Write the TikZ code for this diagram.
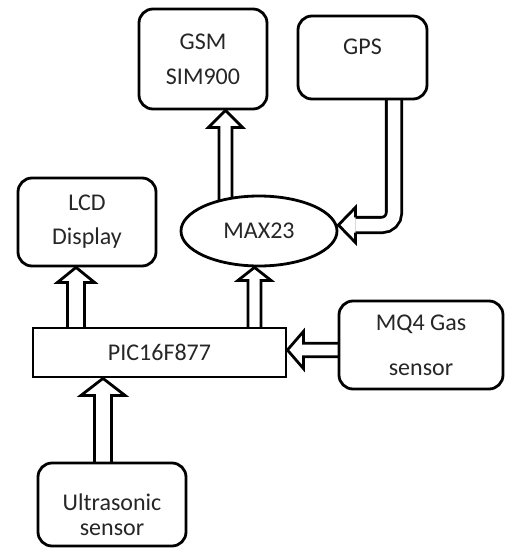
\documentclass[tikz,border=0pt]{standalone}
\usepackage{fontspec}
\setmainfont{Carlito}
\usetikzlibrary{calc,backgrounds,shapes.geometric}
\tikzset{
  box/.style={draw, line width=2.8pt, fill=white, rounded corners=14pt, inner sep=0pt,
    text=black!85, font=\fontsize{24}{32}\selectfont, align=center},
  lbl/.style={inner sep=0pt, text=black!85, font=\fontsize{24}{32}\selectfont, align=center},
  hollow/.style n args={3}{draw, fill=white, line width=2.8pt, line join=miter,
    to path={let \p1=($(\tikztotarget)!#3!(\tikztostart)$) in
      ($(\tikztostart)!#1!90:(\tikztotarget)$) -- ($(\p1)!#1!90:(\tikztotarget)$)
      -- ($(\p1)!#2!90:(\tikztotarget)$) -- (\tikztotarget)
      -- ($(\p1)!#2!-90:(\tikztotarget)$) -- ($(\p1)!#1!-90:(\tikztotarget)$)
      -- ($(\tikztostart)!#1!-90:(\tikztotarget)$)}},
  dblshaft/.style={line width=2.8pt, double=white, double distance=12.5pt, rounded corners=12pt},
  headline/.style={line width=2.8pt, line join=miter},
}
\begin{document}
\begin{tikzpicture}[x=1pt,y=-1pt]
\useasboundingbox (0,0) rectangle (506,549);
% blocks
\node[box, minimum width=128pt, minimum height=100pt] (gsm) at (203,59) {GSM\\[3pt]SIM900};
\node[box, minimum width=129pt, minimum height=83pt] (gps) at (362.5,57.5) {};
\node[lbl] (gpst) at (362.5,47) {GPS};
\node[box, minimum width=138pt, minimum height=88pt] (lcd) at (87,222) {LCD\\[2pt]Display};
\node[box, ellipse, sharp corners, minimum width=156pt, minimum height=70pt] (max) at (259,231) {MAX23};
\node[box, sharp corners, minimum width=253pt, minimum height=49pt] (pic) at (159.5,352.5) {PIC16F877};
\node[box, minimum width=164pt, minimum height=88pt] (mq4) at (421,345) {MQ4 Gas\\[13pt]sensor};
\node[box, minimum width=148pt, minimum height=83pt] (ult) at (112,504.5) {};
\node[lbl] (ultt) at (112,514.5) {Ultrasonic\\[-7pt]sensor};
% guide coordinates
\coordinate (xl) at (76,0);
\coordinate (xm) at (254.5,0);
\coordinate (xg) at (225.5,0);
\coordinate (xu) at (103,0);
\coordinate (xp) at (394,0);
\coordinate (ym) at (0,350);
\coordinate (ls) at (pic.center -| xl);
\coordinate (lt) at (lcd.south -| xl);
\coordinate (ms) at (pic.center -| xm);
\coordinate (mt) at (max.south -| xm);
\coordinate (gs) at (max.center -| xg);
\coordinate (gt) at (gsm.south -| xg);
\coordinate (qs) at (mq4.center |- ym);
\coordinate (qt) at (pic.east |- ym);
\coordinate (us) at (ult.center -| xu);
\coordinate (ut) at (pic.south -| xu);
\coordinate (ps) at (gps.center -| xp);
\coordinate (gtip) at ($(max.east)+(0,-6)$);
\coordinate (gbase) at ($(gtip)+(17,0)$);
\begin{scope}[on background layer]
\fill[white] (0,0) rectangle (506,549);
\draw[hollow={8.5pt}{18.5pt}{15pt}] (ls) to (lt);
\draw[hollow={6.5pt}{16.5pt}{13pt}] (ms) to (mt);
\draw[hollow={6.5pt}{17pt}{17pt}] (gs) to (gt);
\draw[hollow={6.75pt}{18.5pt}{16pt}] (qs) to (qt);
\draw[hollow={8.5pt}{22pt}{17pt}] (us) to (ut);
% GPS -> MAX23 bent arrow
\draw[dblshaft] (ps) |- (gbase);
\fill[white] ($(gbase)+(0,-17.5)$) -- (gtip) -- ($(gbase)+(0,17.5)$) -- cycle;
\draw[headline] ($(gbase)+(0,-7.65)$) -- ($(gbase)+(0,-17.5)$) -- (gtip)
  -- ($(gbase)+(0,17.5)$) -- ($(gbase)+(0,7.65)$);
\end{scope}
\end{tikzpicture}
\end{document}
